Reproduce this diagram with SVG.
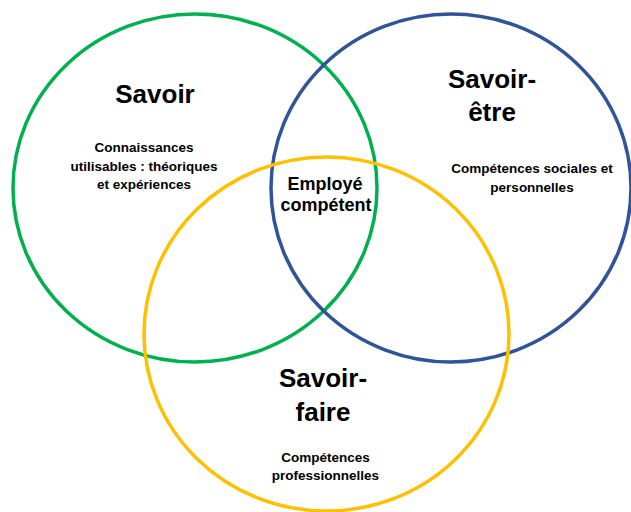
<svg xmlns="http://www.w3.org/2000/svg" width="631" height="512" viewBox="0 0 631 512">
<style>
.c{fill:none;stroke-width:3.5}
.t{font-family:"Liberation Sans",Arial,sans-serif;font-weight:bold;fill:#000;text-anchor:middle}
.big{font-size:26px}
.mid{font-size:18px}
.sm{font-size:13.5px}
</style>
<rect width="631" height="512" fill="#fff"/>
<g id="savoir">
<ellipse class="c" cx="195" cy="188" rx="182" ry="174" stroke="#00B050"/>
</g>
<g id="savoir-etre">
<ellipse class="c" cx="451" cy="188" rx="180" ry="174" stroke="#2F5597"/>
</g>
<g id="savoir-faire">
<ellipse class="c" cx="326.5" cy="334" rx="182.5" ry="177" stroke="#FFC000"/>
</g>
<g id="labels-savoir">
<text class="t big" x="155" y="103">Savoir</text>
<text class="t sm" x="144" y="152">Connaissances</text>
<text class="t sm" x="144" y="170.5">utilisables : théoriques</text>
<text class="t sm" x="144" y="189">et expériences</text>
</g>
<g id="labels-savoir-etre">
<text class="t big" x="492" y="88">Savoir-</text>
<text class="t big" x="492" y="121">être</text>
<text class="t sm" x="532" y="173">Compétences sociales et</text>
<text class="t sm" x="532" y="192">personnelles</text>
</g>
<g id="labels-savoir-faire">
<text class="t big" x="323" y="387">Savoir-</text>
<text class="t big" x="323" y="421">faire</text>
<text class="t sm" x="325.5" y="462">Compétences</text>
<text class="t sm" x="325.5" y="480">professionnelles</text>
</g>
<g id="center">
<text class="t mid" x="325" y="190">Employé</text>
<text class="t mid" x="326" y="211">compétent</text>
</g>
<g id="connectors"></g>
</svg>
